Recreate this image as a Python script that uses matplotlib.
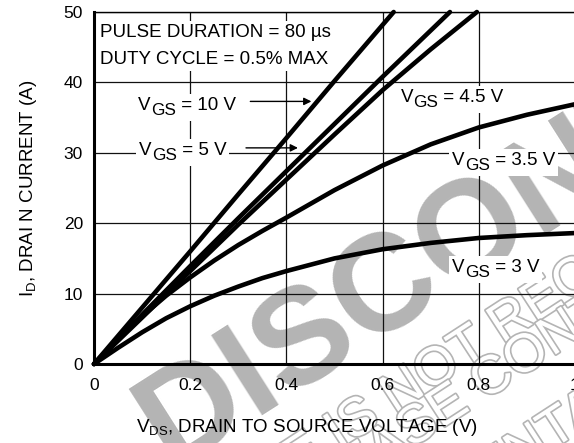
import math
import matplotlib
matplotlib.use("Agg")
import matplotlib.pyplot as plt
import matplotlib.patheffects as pe
from matplotlib.transforms import offset_copy, Bbox
from matplotlib.patches import Rectangle

plt.rcParams['font.family'] = ['Liberation Sans', 'DejaVu Sans']
plt.rcParams['mathtext.default'] = 'regular'

# Output characteristics
vds_10 = [0, 0.1, 0.2, 0.3, 0.4, 0.5, 0.623]
id_10 = [0, 8.0, 16.0, 24.1, 32.1, 40.2, 50]

vds_5 = [0, 0.1, 0.2, 0.3, 0.4, 0.5, 0.6, 0.74]
id_5 = [0, 7.0, 13.9, 20.7, 27.4, 34.1, 40.8, 50]

vds_45 = [0, 0.1, 0.2, 0.3, 0.4, 0.5, 0.6, 0.7, 0.796]
id_45 = [0, 6.6, 13.2, 19.8, 26.2, 32.6, 38.9, 44.7, 50]

vds_35 = [0, 0.05, 0.1, 0.15, 0.2, 0.25, 0.3, 0.35, 0.4, 0.5, 0.6, 0.7, 0.8, 0.9, 1.0]
id_35 = [0, 3.5, 6.8, 9.7, 12.3, 14.7, 16.9, 18.9, 20.8, 24.7, 28.2, 31.2, 33.6, 35.4, 36.9]

vds_3 = [0, 0.05, 0.1, 0.15, 0.2, 0.25, 0.3, 0.35, 0.4, 0.5, 0.6, 0.7, 0.8, 0.9, 1.0]
id_3 = [0, 2.3, 4.5, 6.5, 8.2, 9.7, 11.0, 12.2, 13.2, 15.0, 16.3, 17.2, 17.9, 18.3, 18.6]

x_ticks = [0, 0.2, 0.4, 0.6, 0.8, 1.0]
x_ticklabels = ['0', '0.2', '0.4', '0.6', '0.8', '1']
y_ticks = [0, 10, 20, 30, 40, 50]

W, H = 574, 443


def fpos(x, y):
    # pixel position (from top-left) -> figure fraction
    return x / W, 1 - y / H


fig = plt.figure(figsize=(W / 100, H / 100), dpi=100)
ax = fig.add_axes([94 / W, 79 / H, 481 / W, 352 / H])
ax.patch.set_visible(False)
renderer = fig.canvas.get_renderer()

# watermark behind the chart
gray = '#b4b4b4'
fig.text(*fpos(170, 468), 'DISCONTINUED', fontsize=99, fontweight='bold', color=gray,
         rotation=32.5, rotation_mode='anchor', ha='left', va='baseline', zorder=-5)

outline = [pe.withStroke(linewidth=2.4, foreground=gray)]


def note_line(full, key, px, py, size=39, angle=33):
    # place a watermark line so that `key` starts (baseline-left) at pixel (px, py)
    t = fig.text(0, 0, full[:full.index(key)], fontsize=size)
    w = t.get_window_extent(renderer).width
    t.remove()
    a = math.radians(angle)
    x0, y0 = px - w * math.cos(a), py + w * math.sin(a)
    fig.text(*fpos(x0, y0), full, fontsize=size, color='white', path_effects=outline,
             rotation=angle, rotation_mode='anchor', ha='left', va='baseline', zorder=-4)


note_line('THIS DEVICE IS NOT RECOMMENDED FOR NEW DESIGN.', 'IS NOT', 339, 450)
note_line('PLEASE CONTACT YOUR ON SEMICONDUCTOR', 'CONTACT', 484, 401)
note_line('REPRESENTATIVE FOR INFORMATION', 'TATIVE', 552, 450)

# curves
for vx, iy in [(vds_10, id_10), (vds_5, id_5), (vds_45, id_45), (vds_35, id_35), (vds_3, id_3)]:
    ax.plot(vx, iy, color='black', lw=3.3, solid_capstyle='round', solid_joinstyle='round',
            zorder=2, clip_on=False)

ax.set_xlim(0, 1)
ax.set_ylim(0, 50)
ax.set_xticks(x_ticks)
ax.set_xticklabels(x_ticklabels)
ax.set_yticks(y_ticks)
ax.tick_params(length=0, labelsize=12.5, pad=8)
ax.tick_params(axis='x', pad=10)
ax.grid(color='#111111', lw=0.9)
ax.set_axisbelow(True)
for side in ['left', 'bottom']:
    ax.spines[side].set_linewidth(2.2)
ax.spines['top'].set_linewidth(1.0)
ax.spines['right'].set_linewidth(1.0)


def white_box(parts, padx=3, pady=3):
    bb = Bbox.union([p.get_window_extent(renderer) for p in parts])
    bb = Bbox.from_extents(bb.x0 - padx, bb.y0 - pady, bb.x1 + padx, bb.y1 + pady)
    bb = bb.transformed(fig.transFigure.inverted())
    ax.add_patch(Rectangle((bb.x0, bb.y0), bb.width, bb.height, transform=fig.transFigure,
                           facecolor='white', edgecolor='none', zorder=1))


def vgs_label(x, y, value, size=13.5):
    parts = []
    t = ax.text(x, y, 'V', fontsize=size, va='baseline', zorder=4)
    parts.append(t)
    w = t.get_window_extent(renderer).width * 72 / fig.dpi
    t = ax.text(x, y, 'GS', fontsize=size * 0.92, va='baseline', zorder=4,
                transform=offset_copy(ax.transData, fig, x=w, y=-size * 0.28, units='points'))
    parts.append(t)
    w += t.get_window_extent(renderer).width * 72 / fig.dpi
    t = ax.text(x, y, ' = ' + value + ' V', fontsize=size, va='baseline', zorder=4,
                transform=offset_copy(ax.transData, fig, x=w, y=0, units='points'))
    parts.append(t)
    white_box(parts)


vgs_label(0.092, 36.1, '10')
vgs_label(0.094, 29.7, '5')
vgs_label(0.6375, 37.25, '4.5')
vgs_label(0.745, 28.3, '3.5')
vgs_label(0.745, 13.1, '3')

p1 = ax.text(0.0125, 46.5, 'PULSE DURATION = 80 \u00b5s', fontsize=13.5, va='baseline', zorder=4)
p2 = ax.text(0.0125, 42.6, 'DUTY CYCLE = 0.5% MAX', fontsize=13.5, va='baseline', zorder=4)
white_box([p1, p2])

arrow = dict(arrowstyle='-|>', lw=1.0, color='black', mutation_scale=11, shrinkA=0, shrinkB=0)
ax.annotate('', xy=(0.452, 37.3), xytext=(0.325, 37.3), arrowprops=arrow, zorder=4)
ax.annotate('', xy=(0.424, 30.7), xytext=(0.316, 30.7), arrowprops=arrow, zorder=4)

fig.text(*fpos(29, 188), 'I$_{D}$, DRAI N CURRENT (A)', fontsize=13.5, rotation=90,
         ha='center', va='center')
fig.text(*fpos(307, 427), 'V$_{DS}$, DRAIN TO SOURCE VOLTAGE (V)', fontsize=13.5,
         ha='center', va='center')

fig.savefig('out.png', dpi=100)
